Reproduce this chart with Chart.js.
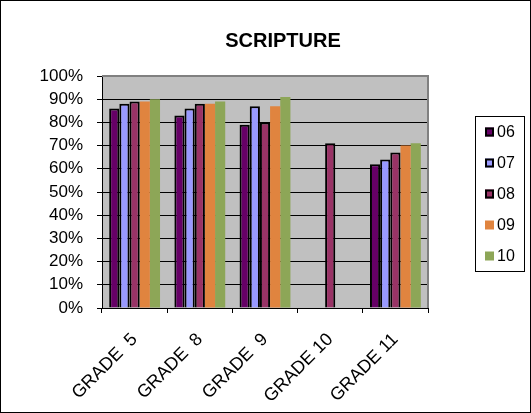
<!DOCTYPE html>
<html>
<head>
<meta charset="utf-8">
<script src="https://cdn.jsdelivr.net/npm/chart.js@4/dist/chart.umd.min.js"></script>
<style>
  html, body { margin: 0; padding: 0; background: #fff; }
  #wrap { width: 531px; height: 413px; position: relative; }
</style>
</head>
<body>
<div id="wrap"><canvas id="myChart" width="531" height="413"></canvas></div>
<script>
// data (percent)
let grades = ['GRADE  5', 'GRADE  8', 'GRADE  9', 'GRADE 10', 'GRADE 11'];
let years = ['06', '07', '08', '09', '10'];
let y06 = [86, 83, 79, null, 62];
let y07 = [88, 86, 87, null, 64];
let y08 = [89, 88, 80, 71, 67];
let y09 = [89, 88, 87, null, 70];
let y10 = [90, 89, 91, null, 71];
let colors = ['#660066', '#9999FF', '#993366', '#E0843F', '#8DA657'];
let bordered = [true, true, true, false, false];

let series = [y06, y07, y08, y09, y10];
let datasets = series.map((vals, i) => ({
    label: years[i],
    data: vals,
    backgroundColor: colors[i],
    borderColor: '#000000',
    borderWidth: bordered[i] ? 2 : 0,
    borderSkipped: 'start',
    barPercentage: 1,
    categoryPercentage: 0.78
}));

let font = "'Liberation Sans', Arial, sans-serif";

// title, plot background/frame, legend box, outer border
let extras = {
    id: 'extras',
    beforeDraw(chart) {
        let ctx = chart.ctx;
        let a = chart.chartArea;
        ctx.save();
        ctx.fillStyle = '#ffffff';
        ctx.fillRect(0, 0, chart.width, chart.height);
        ctx.fillStyle = '#C0C0C0';
        ctx.fillRect(a.left, a.top, a.right - a.left, a.bottom - a.top);
        ctx.restore();
    },
    afterDraw(chart) {
        let ctx = chart.ctx;
        let a = chart.chartArea;
        ctx.save();
        // plot frame
        ctx.strokeStyle = '#808080';
        ctx.lineWidth = 2;
        ctx.beginPath();
        ctx.moveTo(a.left, a.top);
        ctx.lineTo(a.right, a.top);
        ctx.lineTo(a.right, a.bottom);
        ctx.stroke();
        // title
        ctx.fillStyle = '#000';
        ctx.font = 'bold 20px ' + font;
        ctx.textAlign = 'center';
        ctx.textBaseline = 'middle';
        ctx.fillText('SCRIPTURE', 283, 41);
        // legend
        ctx.strokeStyle = '#000';
        ctx.lineWidth = 1;
        ctx.strokeRect(475.5, 116.5, 49, 155);
        ctx.font = '16px ' + font;
        ctx.textAlign = 'left';
        chart.data.datasets.forEach((ds, i) => {
            let cy = 132 + i * 31;
            ctx.fillStyle = ds.backgroundColor;
            ctx.fillRect(485, cy - 4.5, 9, 9);
            if (ds.borderWidth) {
                ctx.strokeStyle = '#000';
                ctx.lineWidth = 2;
                ctx.strokeRect(486, cy - 3.5, 7, 7);
            }
            ctx.fillStyle = '#000';
            ctx.fillText(ds.label, 497, cy + 1);
        });
        // outer border
        ctx.strokeStyle = '#000';
        ctx.lineWidth = 1;
        ctx.strokeRect(0.5, 0.5, chart.width - 1, chart.height - 1);
        ctx.restore();
    }
};

let diagramma = document.getElementById('myChart').getContext('2d');
let myChart = new Chart(diagramma, {
    type: 'bar',
    data: {
        labels: grades,
        datasets: datasets
    },
    plugins: [extras],
    options: {
        responsive: false,
        animation: false,
        layout: {
            padding: { left: 10, right: 103, top: 76, bottom: 2 }
        },
        plugins: {
            legend: false,
            tooltip: { enabled: false }
        },
        scales: {
            x: {
                afterFit: (scale) => { scale.height = 413 - 308 - 2; },
                grid: {
                    offset: true,
                    drawOnChartArea: false,
                    drawTicks: true,
                    tickLength: 5,
                    tickColor: '#000'
                },
                border: { color: '#000', width: 1 },
                ticks: {
                    color: '#000',
                    font: { family: font, size: 18 },
                    maxRotation: 45,
                    minRotation: 45,
                    autoSkip: false,
                    padding: 16
                }
            },
            y: {
                min: 0,
                max: 100,
                afterFit: (scale) => { scale.width = 102 - 10; },
                grid: {
                    color: '#000',
                    lineWidth: 1,
                    drawTicks: true,
                    tickLength: 5,
                    tickColor: '#000'
                },
                border: { color: '#000', width: 1 },
                ticks: {
                    stepSize: 10,
                    autoSkip: false,
                    color: '#000',
                    font: { family: font, size: 17 },
                    padding: 14,
                    callback: (value) => value + '%'
                }
            }
        }
    }
});
</script>
</body>
</html>
